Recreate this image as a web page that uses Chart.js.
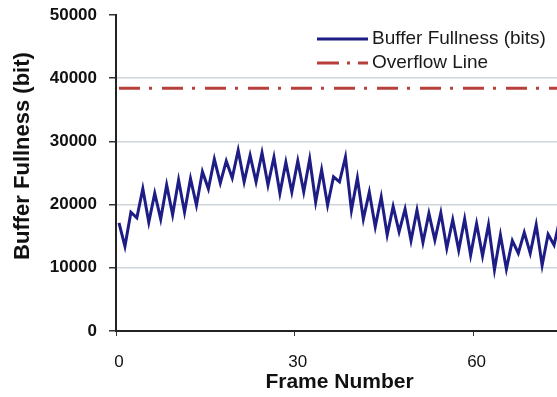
<!DOCTYPE html>
<html>
<head>
<meta charset="utf-8">
<script src="https://cdn.jsdelivr.net/npm/chart.js@4.4.1/dist/chart.umd.min.js"></script>
<style>
    html, body { margin: 0; padding: 0; background: #fff; overflow: hidden; }
    #wrap { width: 563px; height: 397px; }
</style>
</head>
<body>
<div id="wrap"><canvas id="buffer-chart" width="563" height="397"></canvas></div>
<script>
// Frame numbers (x categories)
const frames = [
    0, 1, 2, 3, 4, 5, 6, 7, 8, 9, 10, 11, 12, 13, 14, 15, 16, 17, 18, 19,
    20, 21, 22, 23, 24, 25, 26, 27, 28, 29, 30, 31, 32, 33, 34, 35, 36, 37, 38, 39,
    40, 41, 42, 43, 44, 45, 46, 47, 48, 49, 50, 51, 52, 53, 54, 55, 56, 57, 58, 59,
    60, 61, 62, 63, 64, 65, 66, 67, 68, 69, 70, 71, 72, 73, 74
];

// Buffer fullness per frame (bits)
const bufferFullness = [
    17100, 13400, 18800, 17900, 22500, 17200, 21800, 17700, 23100, 18400,
    23900, 18800, 24100, 19900, 25200, 22500, 27200, 23400, 26900, 24200,
    28600, 23600, 27800, 23600, 28200, 23100, 27500, 21800, 26700, 22000,
    26900, 22000, 27200, 20400, 25500, 19900, 24400, 23600, 27500, 19100,
    24200, 17700, 22000, 16500, 21200, 15200, 19700, 15700, 19300, 14300,
    19100, 14000, 18600, 14400, 18700, 13100, 17600, 12800, 17700, 12000,
    17000, 11900, 16800, 9700, 15200, 9800, 14300, 12300, 15600, 12300,
    16800, 10400, 15300, 13600, 17800
];

const overflowLevel = 38400;
const yTicks = [0, 10000, 20000, 30000, 40000, 50000];
const xLabelEvery = 30;

const seriesNames = ['Buffer Fullness (bits)', 'Overflow Line'];
const yTitle = 'Buffer Fullness (bit)';
const lineColor = '#1d1d85';
const overflowColor = '#b8403c';
const overflowDash = [21, 9, 3, 10];
const fontFamily = '"Liberation Sans", Arial, sans-serif';

// legend drawn inside the plot, top right
const insideLegend = {
    id: 'insideLegend',
    afterDraw(chart) {
        const ctx = chart.ctx;
        const x0 = chart.chartArea.left + 201;
        const rows = [
            { y: 39, color: lineColor, dash: [] },
            { y: 63, color: overflowColor, dash: [22, 8, 3, 8, 8, 0] }
        ];
        ctx.save();
        ctx.font = '19px ' + fontFamily;
        ctx.textBaseline = 'middle';
        rows.forEach((r, i) => {
            ctx.strokeStyle = r.color;
            ctx.lineWidth = 3;
            ctx.setLineDash(r.dash);
            ctx.beginPath();
            ctx.moveTo(x0, r.y);
            ctx.lineTo(x0 + 51, r.y);
            ctx.stroke();
            ctx.setLineDash([]);
            ctx.fillStyle = '#1a1a1a';
            ctx.fillText(seriesNames[i], x0 + 55, r.y);
        });
        ctx.restore();
    }
};

// y title sits a bit above the plot's middle in the original
const yAxisTitle = {
    id: 'yAxisTitle',
    afterDraw(chart) {
        const ctx = chart.ctx;
        ctx.save();
        ctx.translate(23, 156);
        ctx.rotate(-Math.PI / 2);
        ctx.font = 'bold 22px ' + fontFamily;
        ctx.fillStyle = '#111';
        ctx.textAlign = 'center';
        ctx.textBaseline = 'middle';
        ctx.fillText(yTitle, 0, 0);
        ctx.restore();
    }
};

new Chart(document.getElementById('buffer-chart').getContext('2d'), {
    type: 'line',
    data: {
        labels: frames,
        datasets: [{
            label: seriesNames[0],
            data: bufferFullness,
            borderColor: lineColor,
            borderWidth: 3,
            pointRadius: 0,
            tension: 0
        }, {
            label: seriesNames[1],
            data: frames.map(() => overflowLevel),
            borderColor: overflowColor,
            borderWidth: 3,
            borderDash: overflowDash,
            pointRadius: 0
        }]
    },
    options: {
        responsive: false,
        animation: false,
        layout: { padding: { top: 15, right: 0, left: 0, bottom: 0 } },
        plugins: {
            legend: { display: false },
            tooltip: { enabled: false }
        },
        scales: {
            x: {
                type: 'category',
                offset: true,
                grid: {
                    offset: true,
                    drawOnChartArea: false,
                    tickLength: 5,
                    tickColor: (c) => (c.index % xLabelEvery === 0 ? '#333' : 'rgba(0,0,0,0)')
                },
                border: { color: '#222', width: 2 },
                ticks: {
                    autoSkip: false,
                    maxRotation: 0,
                    padding: 16,
                    color: '#111',
                    font: { family: fontFamily, size: 17 },
                    callback: (v, i) => (i % xLabelEvery === 0 ? String(frames[i]) : '')
                },
                title: {
                    display: true,
                    text: 'Frame Number',
                    color: '#111',
                    padding: { top: 2, bottom: 2 },
                    font: { family: fontFamily, size: 21, weight: 'bold' }
                },
                afterFit: (s) => {
                    s.height = 66;
                    s.paddingLeft = 0;
                    s.paddingRight = 0;
                }
            },
            y: {
                min: yTicks[0],
                max: yTicks[yTicks.length - 1],
                afterBuildTicks: (s) => { s.ticks = yTicks.map(v => ({ value: v })); },
                grid: {
                    color: (c) => (c.tick && c.tick.value > 0 && c.tick.value < 50000 ? '#cdd5da' : 'rgba(0,0,0,0)'),
                    tickColor: '#333',
                    tickLength: 7,
                    lineWidth: 1.5
                },
                border: { color: '#222', width: 2 },
                ticks: {
                    padding: 12,
                    color: '#111',
                    font: { family: fontFamily, size: 17, weight: 'bold' },
                    callback: (v) => String(v)
                },
                title: { display: false },
                afterFit: (s) => {
                    s.width = 116;
                    s.paddingTop = 0;
                    s.paddingBottom = 0;
                }
            }
        }
    },
    plugins: [insideLegend, yAxisTitle]
});
</script>
</body>
</html>
